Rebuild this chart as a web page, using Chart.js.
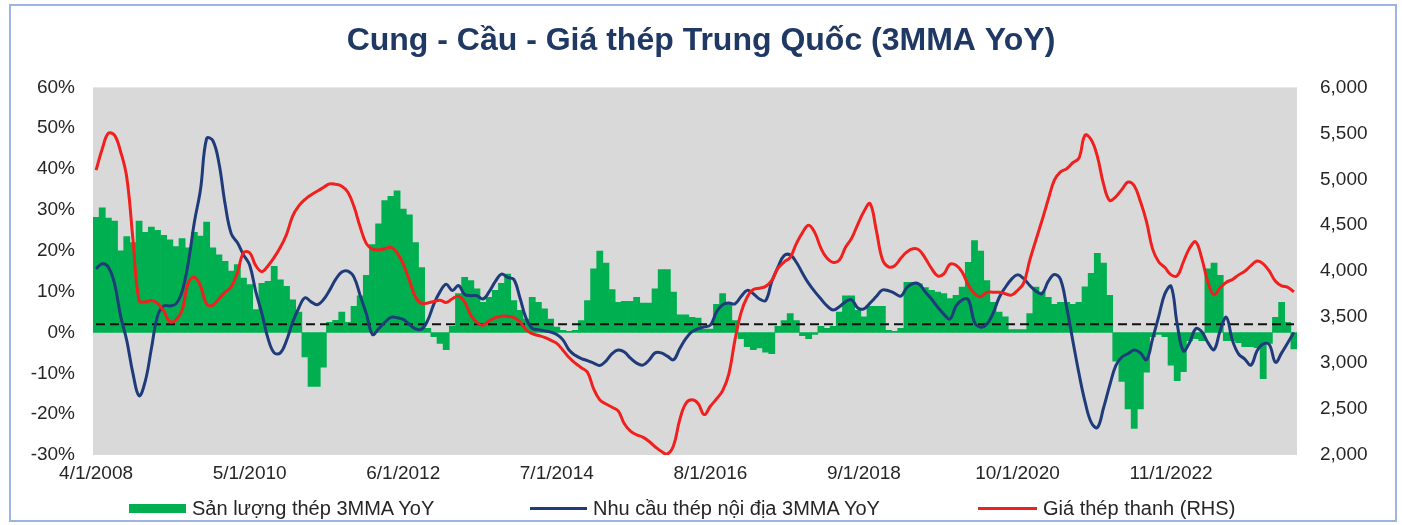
<!DOCTYPE html>
<html>
<head>
<meta charset="utf-8">
<title>Cung - Cầu - Giá thép Trung Quốc</title>
<script src="https://cdn.jsdelivr.net/npm/chart.js@4.4.1/dist/chart.umd.min.js"></script>
<style>
  html, body { margin: 0; padding: 0; background: #fff; }
  #wrap { position: relative; width: 1402px; height: 525px; overflow: hidden;
          font-family: 'Liberation Sans', Arial, sans-serif; }
  #frame { position: absolute; left: 9px; top: 4px; width: 1384px; height: 514px;
           border: 2px solid #9DB4E3; pointer-events: none; }
  canvas { position: absolute; left: 0; top: 0; }
  .key { position: absolute; top: 497px; height: 22px; display: flex; align-items: center;
         font-size: 20px; color: #262626; white-space: nowrap; }
  .key i { display: inline-block; width: 57px; margin-right: 6px; }
</style>
</head>
<body>
<div id="wrap">
  <canvas id="chart" width="1402" height="525"></canvas>
  <div class="key" style="left:129px"><i style="height:9px;background:#00B050"></i>Sản lượng thép 3MMA YoY</div>
  <div class="key" style="left:530px"><i style="height:3px;background:#1F3B7A"></i>Nhu cầu thép nội địa 3MMA YoY</div>
  <div class="key" style="left:978px"><i style="height:3px;width:59px;background:#F0201E"></i>Giá thép thanh (RHS)</div>
  <div id="frame"></div>
</div>
<script>
Chart.defaults.font.family = "'Liberation Sans', Arial, sans-serif";
Chart.defaults.color = '#262626';

// monthly, Apr 2008 onwards
const production = [
  28.2, 30.5, 28, 27.3, 20, 23.5, 22, 27.3, 24.5, 25.8,
  25, 23.8, 22.7, 21, 23, 20.7, 24.5, 23.6, 27, 20.7,
  19, 17.4, 15, 16.6, 13.3, 11.7, 5.6, 12, 12.5, 16.2,
  12.9, 11.3, 8, 5, -6, -13.2, -13.2, -8.5, 2.5, 3,
  5, 2.5, 6.4, 9, 14, 21.5, 26.6, 32.3, 33.3, 34.7,
  30.2, 28.8, 22, 15.9, 1, -1, -2.7, -4.2, 1.5, 9.5,
  13.5, 12.7, 10.7, 7.4, 8.6, 10.3, 12, 14.3, 7.8, 5.4,
  3.3, 8.6, 7.4, 5.8, 3.3, 1.3, 0.5, 0.3, 0.5, 2.9,
  7.8, 15.6, 19.9, 17, 10.5, 7.4, 7.6, 7.6, 8.6, 7.2,
  7.2, 10.7, 15.4, 15.4, 9.9, 4.3, 4.3, 3.7, 3.5, 0.8,
  0.8, 6.9, 9.5, 7.4, 2.9, -1.5, -3.5, -4.2, -3.8, -4.8,
  -5.2, 1.5, 2.9, 4.6, 2.9, -0.8, -1.5, -0.5, 1.5, 1,
  1.5, 5, 9, 9, 5.4, 3.8, 6.4, 6.4, 6.4, 0.5,
  0.3, 1, 12.3, 12.3, 11.9, 11, 10.3, 9.9, 9.5, 8.3,
  9.1, 11.1, 17.2, 22.5, 19.9, 12.7, 7.4, 5, 3.8, 0.7,
  0.7, 0.7, 4.6, 11.1, 9.9, 8.6, 6.9, 7.4, 7.4, 6.9,
  7.4, 11.2, 14.5, 19.4, 17, 9.1, -7, -12, -18.7, -23.5,
  -18.7, -9.7, -1, -0.5, -1, -8, -11.8, -9.6, -2, -1.5,
  -2, 15.6, 17, 14, -2, -2, -2.5, -3.5, -3.5, -3.7,
  -11.3, -2.7, 3.7, 7.4, 2.5, -4
];

const demand = [
  15.6, 16.8, 16, 12, 4, -2, -10, -15.5, -12, -4,
  4, 6.5, 6.5, 7, 10, 17, 27, 35, 47.5, 47,
  41.5, 31.5, 24.2, 22, 19, 16.5, 10, 4.6, -1.5, -5,
  -5, -2, 2.5, 6, 8.5, 7.5, 6.8, 8, 10.3, 13,
  14.8, 15, 13.5, 9, 4.6, -0.5, 0.9, 2.5, 3.7, 3.6,
  3.2, 2, 0.9, 0.8, 3, 7, 10, 11.8, 10.3, 11.5,
  9.3, 9, 9, 8.2, 10, 12.5, 14.3, 13.5, 13, 8.5,
  3.5, 1, 0.7, 0.4, 0.1, -0.5, -1.8, -4.3, -5.6, -6.4,
  -6.9, -7.5, -8.1, -7, -5.2, -4.3, -4.8, -6.3, -7.5, -8,
  -6.8, -5, -5, -5.8, -6.7, -4, -1.5, 0.2, 0.9, 1.4,
  1.8, 5, 6.8, 7.2, 7, 8.8, 10.3, 9.5, 8.2, 7.8,
  12.5, 16, 18.8, 19, 17.2, 14.5, 12, 10, 8.2, 6.5,
  5.5, 6.3, 7.5, 8, 6, 5.8, 7.2, 8.8, 10.4, 10.2,
  9.6, 8.9, 11, 12, 11.8, 9.9, 8.2, 6.2, 4.5, 3.3,
  6.5, 8, 8, 2.5, 1.3, 2, 4.6, 8.5, 11, 13,
  14.1, 13.2, 11.5, 10.1, 9.5, 12.5, 14.2, 13, 6.2, -2,
  -10, -17, -22, -23.3, -18.5, -13, -8.1, -6, -5.2, -4.3,
  -5, -6.7, -1.5, 4, 9.5, 11.3, 2, -4.5, -2.5, 0.9,
  0.2, -2.5, -4.2, 0.5, 3.7, -2, -5.3, -6.5, -8, -4.5,
  -2.8, -3, -7.3, -5, -2.5, 0
];

const price = [
  5100, 5330, 5500, 5480, 5300, 5020, 4350, 3680, 3665, 3680,
  3650, 3570, 3450, 3470, 3576, 3870, 3935, 3840, 3640, 3630,
  3700, 3770, 3830, 3980, 4200, 4200, 4060, 3995, 4060, 4150,
  4260, 4400, 4600, 4710, 4780, 4830, 4870, 4910, 4950, 4945,
  4925, 4860, 4700, 4480, 4300, 4240, 4230, 4245, 4260, 4200,
  4080, 3900, 3720, 3650, 3655, 3670, 3685, 3660, 3700, 3728,
  3665, 3520, 3440, 3413, 3460, 3495, 3511, 3508, 3495, 3450,
  3360, 3320, 3300, 3280, 3250, 3214, 3140, 3060, 3000, 2950,
  2900, 2720, 2600, 2555, 2520, 2480, 2340, 2260, 2220, 2195,
  2150, 2090, 2040, 2011, 2100, 2380, 2560, 2600, 2560, 2440,
  2530, 2610, 2700, 2880, 3250, 3550, 3720, 3800, 3815, 3835,
  3900, 4030, 4100, 4150, 4300, 4420, 4500, 4420, 4250, 4140,
  4095, 4120, 4260, 4360, 4510, 4650, 4736, 4450, 4130, 4047,
  4060, 4140, 4210, 4245, 4230, 4140, 4030, 3950, 3970, 4076,
  4065, 3990, 3848, 3757, 3722, 3770, 3772, 3770, 3755, 3740,
  3790, 3870, 4120, 4340, 4554, 4780, 4990, 5080, 5115, 5180,
  5230, 5480, 5430, 5250, 4950, 4770, 4810, 4890, 4970, 4930,
  4760, 4540, 4240, 4100, 4040, 3960, 3950, 4100, 4250, 4319,
  4140, 3880, 3745, 3820, 3880, 3910, 3960, 4000, 4060, 4110,
  4080, 4000, 3890, 3840, 3825, 3775
];

const tickLabels = ['4/1/2008', '5/1/2010', '6/1/2012', '7/1/2014',
                    '8/1/2016', '9/1/2018', '10/1/2020', '11/1/2022'];
const dashLevel = 2;

const months = [];
for (let k = 0; k < production.length; k++) {
  const n = 3 + k;
  months.push((n % 12 + 1) + '/1/' + (2008 + Math.floor(n / 12)));
}

const plotBg = {
  id: 'plotBg',
  beforeDatasetsDraw(chart) {
    const { ctx, chartArea: a } = chart;
    ctx.save();
    ctx.fillStyle = '#D9D9D9';
    ctx.fillRect(a.left, a.top, a.width, a.height);
    ctx.restore();
  }
};

// dashed reference line, drawn over the bars but under the lines
const refLine = {
  id: 'refLine',
  afterDatasetDraw(chart, args) {
    if (args.meta.type !== 'bar') return;
    const { ctx, chartArea: a } = chart;
    const y = chart.scales.y.getPixelForValue(dashLevel);
    ctx.save();
    ctx.setLineDash([9, 5]);
    ctx.lineWidth = 2;
    ctx.strokeStyle = '#111';
    ctx.beginPath();
    ctx.moveTo(a.left + 3, y);
    ctx.lineTo(a.right - 3, y);
    ctx.stroke();
    ctx.restore();
  }
};

const tickFont = { size: 19 };

new Chart(document.getElementById('chart'), {
  type: 'bar',
  data: {
    labels: months,
    datasets: [
      {
        type: 'bar',
        label: 'Sản lượng thép 3MMA YoY',
        data: production,
        yAxisID: 'y',
        backgroundColor: '#00B050',
        borderWidth: 0,
        barPercentage: 1,
        categoryPercentage: 1,
        order: 3,
      },
      {
        type: 'line',
        label: 'Nhu cầu thép nội địa 3MMA YoY',
        data: demand,
        yAxisID: 'y',
        borderColor: '#1F3B7A',
        borderWidth: 3,
        pointRadius: 0,
        tension: 0.4,
        order: 2,
      },
      {
        type: 'line',
        label: 'Giá thép thanh (RHS)',
        data: price,
        yAxisID: 'y2',
        borderColor: '#F0201E',
        borderWidth: 3,
        pointRadius: 0,
        tension: 0.4,
        order: 1,
      },
    ],
  },
  options: {
    responsive: false,
    animation: false,
    layout: { padding: { top: 10, bottom: 40, left: 0, right: 0 } },
    plugins: {
      legend: { display: false },
      tooltip: { enabled: false },
      title: {
        display: true,
        text: 'Cung - Cầu - Giá thép Trung Quốc (3MMA YoY)',
        color: '#1F3864',
        font: { size: 32, weight: 'bold' },
        padding: { top: 12, bottom: 27 },
      },
    },
    scales: {
      x: {
        grid: { display: false, drawTicks: false },
        border: { display: false },
        ticks: {
          autoSkip: false, maxRotation: 0, minRotation: 0, padding: 7, font: tickFont,
          callback(v) {
            const lab = this.getLabelForValue(v);
            return tickLabels.includes(lab) ? lab : '';
          },
        },
        afterFit(s) { s.height = 30; },
      },
      y: {
        position: 'left',
        min: -30, max: 60,
        grid: { display: false, drawTicks: false },
        border: { display: false },
        ticks: { stepSize: 10, padding: 18, font: tickFont, callback: v => v + '%' },
        afterFit(s) { s.width = 93; },
      },
      y2: {
        position: 'right',
        min: 2000, max: 6000,
        grid: { display: false, drawTicks: false },
        border: { display: false },
        ticks: { stepSize: 500, padding: 23, font: tickFont, callback: v => v.toLocaleString('en-US') },
        afterFit(s) { s.width = 105; },
      },
    },
  },
  plugins: [plotBg, refLine],
});
</script>
</body>
</html>
